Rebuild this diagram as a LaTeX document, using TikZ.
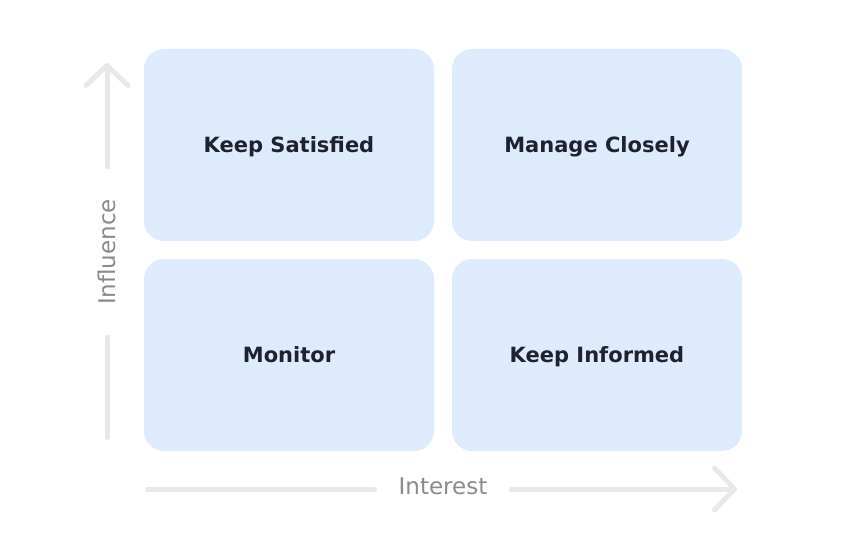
\documentclass[tikz,border=0pt]{standalone}
\usepackage{fontspec}
\setmainfont{DejaVu Sans}
\usetikzlibrary{arrows.meta,positioning}

\begin{document}
\begin{tikzpicture}[x=1pt,y=-1pt]
	\definecolor{cellFill}{RGB}{222, 235, 252}
	\definecolor{cellText}{RGB}{30, 34, 46}
	\definecolor{axisLine}{RGB}{232, 232, 234}
	\definecolor{axisText}{RGB}{138, 138, 143}
	\tikzstyle{cell}=[rectangle, rounded corners=20pt, fill=cellFill, text=cellText, minimum width=290pt, minimum height=192pt, inner sep=0pt, outer sep=0pt, text height=15pt, text depth=0pt, font=\fontsize{21}{25}\selectfont\bfseries]
	\tikzstyle{axis}=[color=axisLine, line width=5pt, line cap=round, line join=round]
	\tikzstyle{axislabel}=[text=axisText, inner ysep=0pt, outer sep=0pt, font=\fontsize{23}{27}\selectfont]

	\useasboundingbox (0,0) rectangle (864,540);

	\node [cell] (ks) at (289,145) {Keep Satisfied};
	\node [cell, right=18pt of ks] (mc) {Manage Closely};
	\node [cell, below=18pt of ks] (mo) {Monitor};
	\node [cell, below=18pt of mc] (ki) {Keep Informed};

	\node [axislabel, rotate=90, inner xsep=32pt] (infl) at (107,252) {Influence};
	\node [axislabel, inner xsep=24pt] (intr) at (443,486) {Interest};

	\coordinate (vStart) at (107,437.5);
	\coordinate (vEnd) at (107,63);
	\coordinate (hStart) at (147.5,489);
	\coordinate (hEnd) at (737,489);

	\draw [axis] (vStart) -- (vStart |- infl.west);
	\draw [axis, -{Straight Barb[length=20pt, width=42pt, round]}] (vEnd |- infl.east) -- (vEnd);
	\draw [axis] (hStart) -- (hStart -| intr.west);
	\draw [axis, -{Straight Barb[length=20pt, width=42pt, round]}] (hEnd -| intr.east) -- (hEnd);
\end{tikzpicture}
\end{document}
